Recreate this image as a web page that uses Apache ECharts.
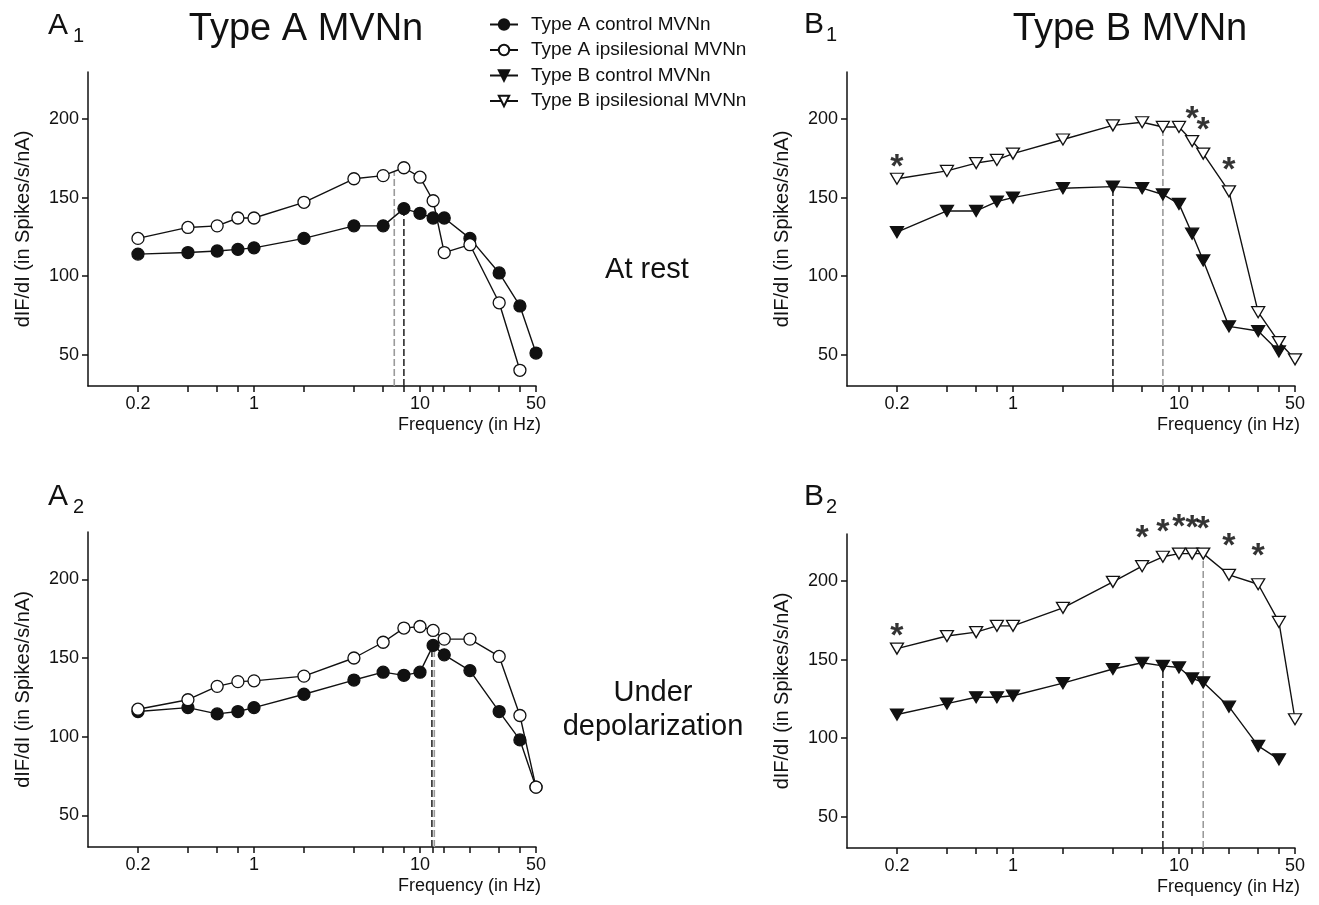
<!DOCTYPE html>
<html>
<head>
<meta charset="utf-8">
<script src="https://cdn.jsdelivr.net/npm/echarts@6/dist/echarts.min.js"></script>
<style>html,body{margin:0;padding:0;background:#fff}#c{width:1319px;height:905px}</style>
</head>
<body>
<div id="c"></div>
<script>
// ---- data ----
const freqs = [0.2, 0.4, 0.6, 0.8, 1, 2, 4, 6, 8, 10, 12, 14, 20, 30, 40, 50];
const xTickValues = [0.2, 0.4, 0.6, 0.8, 1, 2, 4, 6, 8, 10, 12, 14, 20, 30, 40, 50];
const xLabelValues = [0.2, 1, 10, 50];
const yTickValues = [50, 100, 150, 200];

// Panel A1 (Type A, at rest)
const a1Control = [114, 115, 116, 117, 118, 124, 132, 132, 143, 140, 137, 137, 124, 102, 81, 51];
const a1Ipsi = [124, 131, 132, 137, 137, 147, 162, 164, 169, 163, 148, 115, 120, 83, 40];
// Panel B1 (Type B, at rest)
const b1Control = [128, 141.5, 141.5, 147.5, 150, 156, 157, 156, 152, 146, 127, 110, 68, 65, 52];
const b1Ipsi = [162, 167, 172, 174, 178, 187, 196, 198, 195, 195, 186, 178, 154, 77, 58, 47];
// Panel A2 (Type A, under depolarization)
const a2Control = [116, 118.5, 114.5, 116, 118.5, 127, 136, 141, 139, 141, 158, 152, 142, 116, 98, 68];
const a2Ipsi = [117.5, 123.5, 132, 135, 135.5, 138.5, 150, 160, 169, 170, 167.5, 162, 162, 151, 113.5, 68];
// Panel B2 (Type B, under depolarization)
const b2Control = [115, 122, 126, 126, 127, 135, 144, 148, 146, 145, 138, 135.5, 120, 95, 86.5];
const b2Ipsi = [157, 165, 167.5, 171.5, 171.5, 183, 199.5, 209.5, 215.5, 217.5, 217.5, 217.5, 204, 198, 174, 112];

// Resonance (peak) markers: frequency and height of dashed lines [control, ipsilesional]
const a1PeakFreq = [8, 7];     const a1PeakVal = [143, 166.5];
const b1PeakFreq = [4, 8];     const b1PeakVal = [157, 192];
const a2PeakFreq = [11.8, 12.2]; const a2PeakVal = [156, 157];
const b2PeakFreq = [8, 14];    const b2PeakVal = [146, 216];

// Significance asterisks (frequency, height)
const b1StarFreq = [0.2, 12, 14, 20];
const b1StarVal = [175, 205.7, 198.3, 172.8];
const b2StarFreq = [0.2, 6, 8, 10, 12, 14, 20, 30];
const b2StarVal = [170.2, 233, 236.8, 240, 239.4, 238.3, 227.7, 221.3];

const yMin = 30, yMax = 230;
const names = ['Type A control MVNn', 'Type A ipsilesional MVNn', 'Type B control MVNn', 'Type B ipsilesional MVNn'];

// ---- helpers ----
const FONT = '"Liberation Sans", Arial, Helvetica, sans-serif';
const INK = '#111';
const zip = (xs, ys) => ys.map((v, i) => [xs[i], v]);

const grids = [
  {left: 88, top: 72, width: 448, height: 314},
  {left: 847, top: 72, width: 448, height: 314},
  {left: 88, top: 532, width: 448, height: 315},
  {left: 847, top: 534, width: 448, height: 314}
];

function xAxisFor(gi) {
  return {
    type: 'log', logBase: 10, gridIndex: gi, min: 0.1, max: 50,
    axisLine: {show: true, lineStyle: {color: INK, width: 1.5}},
    axisTick: {show: true, length: 6, inside: false, customValues: xTickValues, lineStyle: {color: INK, width: 1.5}},
    axisLabel: {customValues: xLabelValues, fontSize: 18, fontFamily: FONT, color: INK, margin: 9,
      formatter: v => String(+(+v).toPrecision(3))},
    splitLine: {show: false}, minorTick: {show: false}, minorSplitLine: {show: false},
    name: 'Frequency (in Hz)', nameLocation: 'end', nameGap: 5,
    nameTextStyle: {fontSize: 18, fontFamily: FONT, color: INK, align: 'right', verticalAlign: 'top', padding: [30, 0, 0, 0]}
  };
}
function yAxisFor(gi) {
  return {
    type: 'value', gridIndex: gi, min: yMin, max: yMax,
    axisLine: {show: true, lineStyle: {color: INK, width: 1.5}},
    axisTick: {show: true, length: 6, customValues: yTickValues, lineStyle: {color: INK, width: 1.5}},
    axisLabel: {customValues: yTickValues, fontSize: 18, fontFamily: FONT, color: INK, margin: 9},
    splitLine: {show: false},
    name: 'dIF/dI (in Spikes/s/nA)', nameLocation: 'middle', nameGap: 55,
    nameTextStyle: {fontSize: 20, fontFamily: FONT, color: INK}
  };
}
function curve(gi, name, vals, open, tri) {
  return {
    type: 'line', name: name, xAxisIndex: gi, yAxisIndex: gi, z: 3,
    data: zip(freqs, vals),
    symbol: tri ? 'triangle' : 'circle',
    symbolRotate: tri ? 180 : 0,
    symbolSize: tri ? [13, 11] : 12,
    showAllSymbol: true,
    lineStyle: {color: INK, width: 1.4},
    itemStyle: {color: open ? '#fff' : INK, borderColor: INK, borderWidth: 1.3, opacity: 1},
    emphasis: {disabled: true},
    animation: false
  };
}
function dash(gi, f, v, color) {
  return {
    type: 'line', xAxisIndex: gi, yAxisIndex: gi, z: 1,
    data: [[f, yMin], [f, v]],
    symbol: 'none', silent: true,
    lineStyle: {color: color, width: 1.6, type: [7, 3]},
    animation: false
  };
}
function peaks(gi, fs, vs) {
  return [dash(gi, fs[0], vs[0], '#2a2a2a'), dash(gi, fs[1], vs[1], '#9a9a9a')];
}
function stars(gi, fs, vs) {
  return {
    type: 'scatter', xAxisIndex: gi, yAxisIndex: gi, z: 5, clip: false, silent: true,
    data: zip(fs, vs), symbolSize: 1,
    itemStyle: {color: 'rgba(0,0,0,0)'},
    label: {show: true, position: 'inside', formatter: '*', fontSize: 34, fontWeight: 'bold',
      fontFamily: FONT, color: '#000', offset: [0, 9]},
    animation: false
  };
}
function txt(x, y, text, size, align, lh) {
  return {type: 'text', x: x, y: y, silent: true,
    style: {text: text, fontSize: size, fontFamily: FONT, fill: INK,
      align: align, textAlign: align, verticalAlign: 'middle', textVerticalAlign: 'middle',
      lineHeight: lh || size * 1.2}};
}

const option = {
  backgroundColor: '#fff',
  animation: false,
  grid: grids,
  xAxis: [0, 1, 2, 3].map(xAxisFor),
  yAxis: [0, 1, 2, 3].map(yAxisFor),
  legend: {
    data: names, orient: 'vertical', left: 484, top: 10,
    itemWidth: 28, itemHeight: 13, itemGap: 6.5,
    textStyle: {fontSize: 19, fontFamily: FONT, color: INK, lineHeight: 19, padding: [0, 0, 0, 8]},
    selectedMode: false
  },
  series: [
    curve(0, names[0], a1Control, false, false),
    curve(0, names[1], a1Ipsi, true, false),
    ...peaks(0, a1PeakFreq, a1PeakVal),
    curve(1, names[2], b1Control, false, true),
    curve(1, names[3], b1Ipsi, true, true),
    ...peaks(1, b1PeakFreq, b1PeakVal),
    stars(1, b1StarFreq, b1StarVal),
    curve(2, names[0], a2Control, false, false),
    curve(2, names[1], a2Ipsi, true, false),
    ...peaks(2, a2PeakFreq, a2PeakVal),
    curve(3, names[2], b2Control, false, true),
    curve(3, names[3], b2Ipsi, true, true),
    ...peaks(3, b2PeakFreq, b2PeakVal),
    stars(3, b2StarFreq, b2StarVal)
  ],
  graphic: [
    txt(306, 30, 'Type A MVNn', 38, 'center'),
    txt(1130, 30, 'Type B MVNn', 38, 'center'),
    txt(48, 26, 'A', 30, 'left'), txt(73, 36, '1', 20, 'left'),
    txt(804, 25, 'B', 30, 'left'), txt(826, 35, '1', 20, 'left'),
    txt(48, 497, 'A', 30, 'left'), txt(73, 507, '2', 20, 'left'),
    txt(804, 497, 'B', 30, 'left'), txt(826, 507, '2', 20, 'left'),
    txt(647, 270, 'At rest', 29, 'center'),
    txt(653, 710, 'Under\ndepolarization', 29, 'center', 34)
  ]
};

const chart = echarts.init(document.getElementById('c'), null, {renderer: 'canvas'});
chart.setOption(option);
</script>
</body>
</html>
